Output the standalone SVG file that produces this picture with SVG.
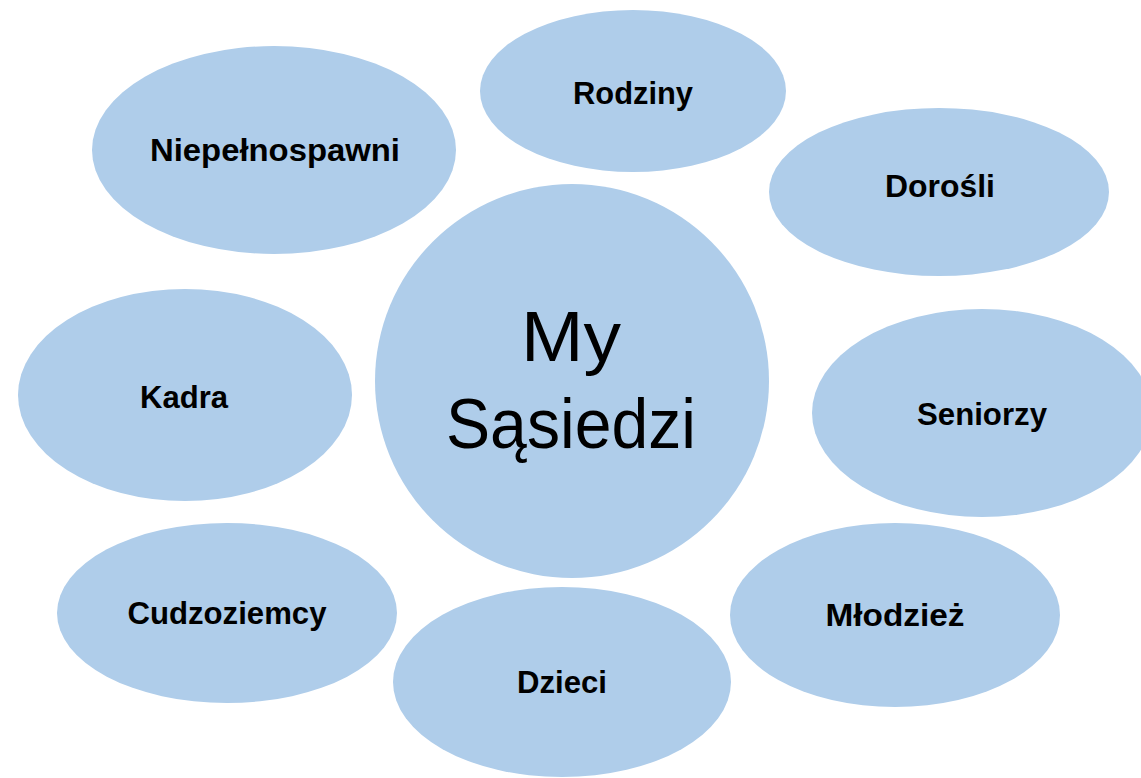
<svg xmlns="http://www.w3.org/2000/svg" width="1141" height="778" viewBox="0 0 1141 778">
<style>
.n{fill:#afcdea;}
.t{font-family:"Liberation Sans",Arial,sans-serif;font-weight:bold;font-size:31px;fill:#000;text-anchor:middle;}
.c{font-family:"Liberation Sans",Arial,sans-serif;font-size:71px;fill:#000;text-anchor:middle;}
</style>
<rect width="1141" height="778" fill="#fff"/>
<g id="connectors"></g>
<g id="niepelnosprawni"><ellipse class="n" cx="274" cy="150" rx="182" ry="104"/><text class="t" x="275" y="161" textLength="250" lengthAdjust="spacingAndGlyphs">Niepełnospawni</text></g>
<g id="rodziny"><ellipse class="n" cx="633" cy="91" rx="153" ry="81"/><text class="t" x="633" y="104" textLength="120" lengthAdjust="spacingAndGlyphs">Rodziny</text></g>
<g id="dorosli"><ellipse class="n" cx="939" cy="192" rx="170" ry="84"/><text class="t" x="940" y="197" textLength="110" lengthAdjust="spacingAndGlyphs">Dorośli</text></g>
<g id="kadra"><ellipse class="n" cx="185" cy="395" rx="167" ry="106"/><text class="t" x="184" y="408" textLength="88" lengthAdjust="spacingAndGlyphs">Kadra</text></g>
<g id="seniorzy"><ellipse class="n" cx="982" cy="413" rx="170" ry="104"/><text class="t" x="982" y="425" textLength="130" lengthAdjust="spacingAndGlyphs">Seniorzy</text></g>
<g id="cudzoziemcy"><ellipse class="n" cx="227" cy="613" rx="170" ry="90"/><text class="t" x="227" y="624" textLength="199" lengthAdjust="spacingAndGlyphs">Cudzoziemcy</text></g>
<g id="dzieci"><ellipse class="n" cx="562" cy="682" rx="169" ry="95"/><text class="t" x="562" y="693" textLength="90" lengthAdjust="spacingAndGlyphs">Dzieci</text></g>
<g id="mlodziez"><ellipse class="n" cx="895" cy="615" rx="165" ry="92"/><text class="t" x="895" y="626" textLength="139" lengthAdjust="spacingAndGlyphs">Młodzież</text></g>
<g id="my-sasiedzi"><circle class="n" cx="572" cy="381" r="197"/><text class="c" x="571" y="361" textLength="100" lengthAdjust="spacingAndGlyphs">My</text><text class="c" x="571" y="448" textLength="250" lengthAdjust="spacingAndGlyphs">Sąsiedzi</text></g>
</svg>
